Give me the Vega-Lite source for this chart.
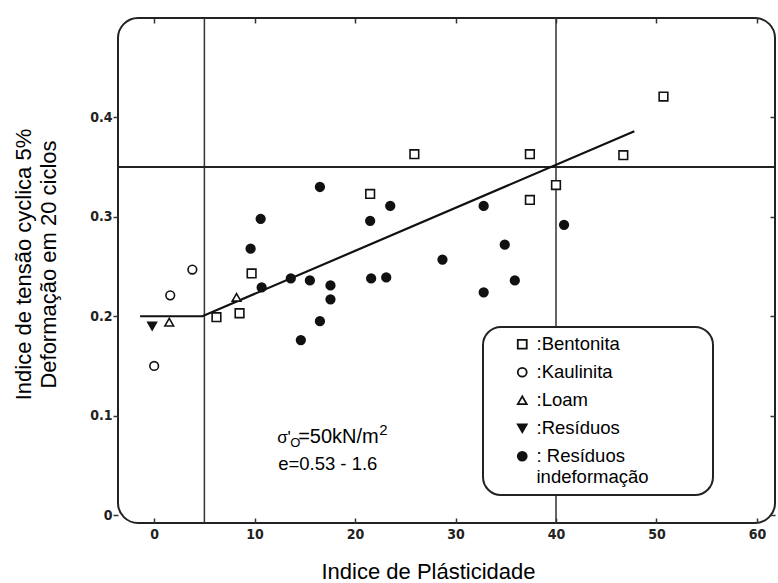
{
  "$schema": "https://vega.github.io/schema/vega-lite/v6.json",
  "autosize": {"type": "none"},
  "padding": {"left": 118, "top": 18, "right": 3, "bottom": 60},
  "width": 657,
  "height": 505,
  "background": "white",
  "config": {
    "view": {"stroke": "#222", "strokeWidth": 2, "cornerRadius": 20},
    "font": "Liberation Sans",
    "axis": {"grid": false, "domain": false, "tickColor": "#333", "tickWidth": 1.5, "labelColor": "#222", "titleColor": "black", "titleFont": "Liberation Sans", "titleFontWeight": "normal", "titleFontSize": 22, "labelFont": "DejaVu Sans Condensed", "labelFontWeight": "bold", "labelFontSize": 14},
    "legend": {"orient": "none", "legendX": 365, "legendY": 309, "strokeColor": "#222", "strokeWidth": 2, "cornerRadius": 18, "fillColor": "white", "padding": 8, "labelFont": "Liberation Sans", "labelFontSize": 18.5, "labelColor": "black", "labelLineHeight": 24, "symbolSize": 80, "symbolStrokeWidth": 1.8, "rowPadding": 9, "symbolOffset": 22, "labelOffset": 5, "labelLimit": 400}
  },
  "datasets": {
    "points": [
      {"pi": 50.7, "ratio": 0.421, "soil": "Bentonita"},
      {"pi": 25.9, "ratio": 0.363, "soil": "Bentonita"},
      {"pi": 37.4, "ratio": 0.363, "soil": "Bentonita"},
      {"pi": 46.7, "ratio": 0.362, "soil": "Bentonita"},
      {"pi": 40.0, "ratio": 0.332, "soil": "Bentonita"},
      {"pi": 37.4, "ratio": 0.317, "soil": "Bentonita"},
      {"pi": 21.5, "ratio": 0.323, "soil": "Bentonita"},
      {"pi": 9.7, "ratio": 0.243, "soil": "Bentonita"},
      {"pi": 8.5, "ratio": 0.203, "soil": "Bentonita"},
      {"pi": 6.2, "ratio": 0.199, "soil": "Bentonita"},
      {"pi": 3.8, "ratio": 0.247, "soil": "Kaulinita"},
      {"pi": 1.6, "ratio": 0.221, "soil": "Kaulinita"},
      {"pi": 0.0, "ratio": 0.150, "soil": "Kaulinita"},
      {"pi": 1.5, "ratio": 0.194, "soil": "Loam"},
      {"pi": 8.2, "ratio": 0.219, "soil": "Loam"},
      {"pi": -0.2, "ratio": 0.190, "soil": "Resíduos"},
      {"pi": 16.5, "ratio": 0.330, "soil": "Resíduos indeformação"},
      {"pi": 10.6, "ratio": 0.298, "soil": "Resíduos indeformação"},
      {"pi": 9.6, "ratio": 0.268, "soil": "Resíduos indeformação"},
      {"pi": 10.7, "ratio": 0.229, "soil": "Resíduos indeformação"},
      {"pi": 13.6, "ratio": 0.238, "soil": "Resíduos indeformação"},
      {"pi": 15.5, "ratio": 0.236, "soil": "Resíduos indeformação"},
      {"pi": 17.55, "ratio": 0.231, "soil": "Resíduos indeformação"},
      {"pi": 17.55, "ratio": 0.217, "soil": "Resíduos indeformação"},
      {"pi": 16.5, "ratio": 0.195, "soil": "Resíduos indeformação"},
      {"pi": 14.6, "ratio": 0.176, "soil": "Resíduos indeformação"},
      {"pi": 21.5, "ratio": 0.296, "soil": "Resíduos indeformação"},
      {"pi": 23.5, "ratio": 0.311, "soil": "Resíduos indeformação"},
      {"pi": 21.6, "ratio": 0.238, "soil": "Resíduos indeformação"},
      {"pi": 23.1, "ratio": 0.239, "soil": "Resíduos indeformação"},
      {"pi": 28.7, "ratio": 0.257, "soil": "Resíduos indeformação"},
      {"pi": 32.8, "ratio": 0.311, "soil": "Resíduos indeformação"},
      {"pi": 34.9, "ratio": 0.272, "soil": "Resíduos indeformação"},
      {"pi": 35.9, "ratio": 0.236, "soil": "Resíduos indeformação"},
      {"pi": 32.8, "ratio": 0.224, "soil": "Resíduos indeformação"},
      {"pi": 40.8, "ratio": 0.292, "soil": "Resíduos indeformação"}
    ],
    "fit": [
      {"pi": -1.4, "ratio": 0.2},
      {"pi": 4.8, "ratio": 0.2},
      {"pi": 47.8, "ratio": 0.386}
    ],
    "one": [{}]
  },
  "resolve": {"axis": {"x": "independent", "y": "independent"}},
  "layer": [
    {
      "data": {"name": "one"},
      "mark": {"type": "rule", "color": "#333", "strokeWidth": 1.5},
      "encoding": {"x": {"datum": 5, "type": "quantitative", "scale": {"domain": [-3.6, 61.8], "nice": false, "zero": false}, "axis": null}}
    },
    {
      "data": {"name": "one"},
      "mark": {"type": "rule", "color": "#333", "strokeWidth": 1.5},
      "encoding": {"x": {"datum": 40, "type": "quantitative", "axis": null}}
    },
    {
      "data": {"name": "one"},
      "mark": {"type": "rule", "color": "#222", "strokeWidth": 2},
      "encoding": {"y": {"datum": 0.35, "type": "quantitative", "scale": {"domain": [-0.008, 0.5], "nice": false, "zero": false}, "axis": null}}
    },
    {
      "data": {"name": "fit"},
      "mark": {"type": "line", "color": "#111", "strokeWidth": 2.2},
      "encoding": {
        "x": {"field": "pi", "type": "quantitative", "axis": {"orient": "top", "values": [0, 10, 20, 30, 40, 50, 60], "labels": false, "tickSize": -5, "title": null}},
        "y": {"field": "ratio", "type": "quantitative", "axis": {"orient": "right", "values": [0, 0.1, 0.2, 0.3, 0.4], "labels": false, "tickSize": -5, "title": null}}
      }
    },
    {
      "data": {"name": "points"},
      "mark": {"type": "point", "filled": true, "strokeWidth": 1.6, "size": 75, "opacity": 1},
      "encoding": {
        "x": {"field": "pi", "type": "quantitative", "axis": {"orient": "bottom", "values": [0, 10, 20, 30, 40, 50, 60], "tickSize": -5, "labelPadding": 9, "title": "Indice de Plásticidade", "titleX": 310, "titleY": 55, "titleBaseline": "alphabetic", "titleAnchor": "middle", "titleAlign": "center"}},
        "y": {"field": "ratio", "type": "quantitative", "axis": {"orient": "left", "values": [0, 0.1, 0.2, 0.3, 0.4], "tickSize": 5, "labelPadding": 1, "labelExpr": "datum.value == 0 ? '0' : format(datum.value, '.1f')", "title": ["Indice de tensão cyclica 5%", "Deformação em 20 ciclos"], "titleX": -95, "titleY": 246, "titleBaseline": "middle", "titleAlign": "center", "titleAngle": -90, "titleLineHeight": 25}},
        "shape": {"field": "soil", "type": "nominal", "scale": {"domain": ["Bentonita", "Kaulinita", "Loam", "Resíduos", "Resíduos indeformação"], "range": ["square", "circle", "triangle-up", "triangle-down", "circle"]}, "legend": {"title": null, "labelExpr": "datum.label == 'Resíduos indeformação' ? [': Resíduos', 'indeformação\u2800\u2800\u2800\u2800'] : ':' + datum.label"}},
        "fill": {"field": "soil", "type": "nominal", "scale": {"domain": ["Bentonita", "Kaulinita", "Loam", "Resíduos", "Resíduos indeformação"], "range": ["white", "white", "white", "#111", "#111"]}, "legend": {"title": null, "labelExpr": "datum.label == 'Resíduos indeformação' ? [': Resíduos', 'indeformação\u2800\u2800\u2800\u2800'] : ':' + datum.label"}},
        "stroke": {"field": "soil", "type": "nominal", "scale": {"domain": ["Bentonita", "Kaulinita", "Loam", "Resíduos", "Resíduos indeformação"], "range": ["#111", "#111", "#111", "#111", "#111"]}, "legend": {"title": null, "labelExpr": "datum.label == 'Resíduos indeformação' ? [': Resíduos', 'indeformação\u2800\u2800\u2800\u2800'] : ':' + datum.label"}}
      }
    },
    {
      "data": {"name": "one"},
      "mark": {"type": "text", "text": "σ'", "fontSize": 17, "align": "left", "baseline": "alphabetic", "font": "Liberation Sans"},
      "encoding": {"x": {"datum": 12.24, "type": "quantitative", "axis": null}, "y": {"datum": 0.0724, "type": "quantitative", "axis": null}}
    },
    {
      "data": {"name": "one"},
      "mark": {"type": "text", "text": "O", "fontSize": 13, "align": "left", "baseline": "alphabetic", "dx": 13, "dy": 4, "font": "Liberation Sans"},
      "encoding": {"x": {"datum": 12.24, "type": "quantitative", "axis": null}, "y": {"datum": 0.0724, "type": "quantitative", "axis": null}}
    },
    {
      "data": {"name": "one"},
      "mark": {"type": "text", "text": "=50kN/m", "fontSize": 20, "align": "left", "baseline": "alphabetic", "dx": 21, "font": "Liberation Sans"},
      "encoding": {"x": {"datum": 12.24, "type": "quantitative", "axis": null}, "y": {"datum": 0.0724, "type": "quantitative", "axis": null}}
    },
    {
      "data": {"name": "one"},
      "mark": {"type": "text", "text": "2", "fontSize": 15, "align": "left", "baseline": "alphabetic", "dx": 102, "dy": -8, "font": "Liberation Sans"},
      "encoding": {"x": {"datum": 12.24, "type": "quantitative", "axis": null}, "y": {"datum": 0.0724, "type": "quantitative", "axis": null}}
    },
    {
      "data": {"name": "one"},
      "mark": {"type": "text", "text": "e=0.53 - 1.6", "fontSize": 18.5, "align": "left", "baseline": "alphabetic", "font": "Liberation Sans"},
      "encoding": {"x": {"datum": 12.34, "type": "quantitative", "axis": null}, "y": {"datum": 0.0452, "type": "quantitative", "axis": null}}
    }
  ]
}
